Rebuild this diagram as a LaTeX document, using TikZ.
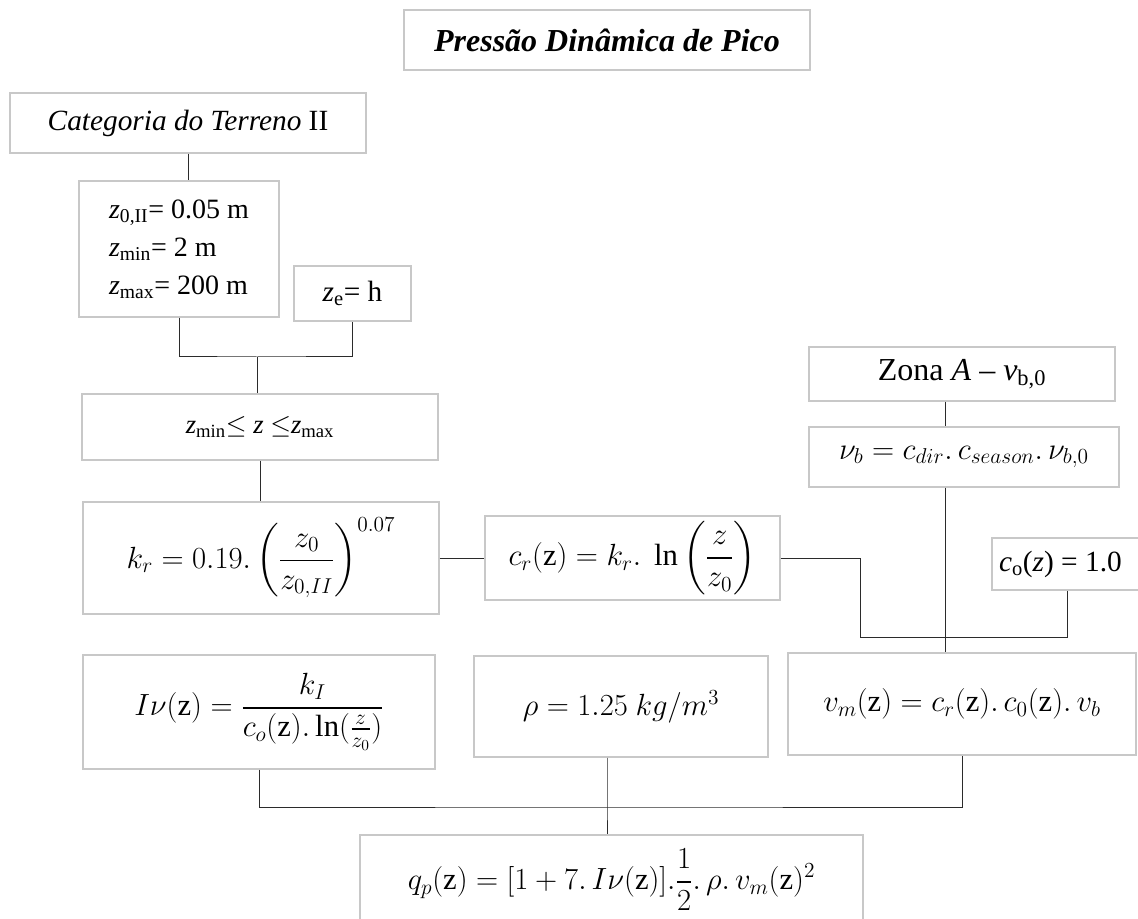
\documentclass[tikz,border=0pt]{standalone}
\usepackage{fix-cm}
\usepackage{amsmath,amssymb}
\usepackage{fontspec}
\setmainfont{Liberation Serif}
\usepackage{tikz}
\usetikzlibrary{positioning,calc}
\usepackage{xcolor}
\definecolor{BordaCinza}{HTML}{C8C8C8}
\definecolor{Tinta}{HTML}{2B2B2B}

\tikzset{
  caixa/.style={draw=BordaCinza,line width=1pt,inner sep=0pt,align=center,
    font=\fontsize{22}{29}\selectfont},
  formula/.style={caixa,font=\fontsize{23}{28}\selectfont},
  ligacao/.style={draw=Tinta,line width=0.75pt},
}

\begin{document}
\begin{tikzpicture}[x=0.75pt,y=-0.75pt]
  % A página segue as proporções da figura original (1138 x 919 px).
  \useasboundingbox (0,0) rectangle (1138,919);

  % Título e dados do terreno.
  \node[caixa,minimum width=304.5pt,minimum height=45pt,font=\fontsize{24}{29}\selectfont] (titulo) at (607,40)
    {\textbf{\textit{Pressão Dinâmica de Pico}}};
  \node[caixa,minimum width=267pt,minimum height=45pt] (categoria) at (188,123)
    {\textit{Categoria do Terreno} II};
  \node[caixa,minimum width=150pt,minimum height=102pt,align=left,
    font=\fontsize{21}{28.5}\selectfont] (zparam) at (179,249)
    {\textit{z}\textsubscript{0,II}= 0.05 m\\
     \textit{z}\textsubscript{min}= 2 m\\
     \textit{z}\textsubscript{max}= 200 m};
  \node[caixa,minimum width=87.75pt,minimum height=41.25pt] (ze) at (352.5,293.5)
    {\textit{z}\textsubscript{e}= h};
  \node[caixa,minimum width=267pt,minimum height=49.5pt,
    font=\fontsize{20}{24}\selectfont] (zlim) at (260,427)
    {\textit{z}\textsubscript{min}$\leq$ \textit{z} $\leq$\textit{z}\textsubscript{max}};

  % Coeficientes de rugosidade e de orografia.
  \node[formula,minimum width=267pt,minimum height=84pt] (kr) at (261,558)
    {$\displaystyle k_r = 0.19.\left(\frac{z_0}{z_{0,II}}\right)^{0.07}$};
  \node[formula,minimum width=221.25pt,minimum height=63pt] (cr) at (632.5,558)
    {$\displaystyle c_r(\mathrm{z}) = k_r.\ \ln\left(\frac{z}{z_0}\right)$};
  \node[caixa,minimum width=112.5pt,minimum height=39pt] (co) at (1067,564)
    {\makebox[102pt][l]{\textit{c}\textsubscript{o}(\textit{z}) = 1.0}};

  % Velocidade de referência do vento.
  \node[caixa,minimum width=229.5pt,minimum height=40.5pt,font=\fontsize{24}{29}\selectfont] (zona) at (962,374)
    {Zona \textit{A} -- \textit{v}\textsubscript{b,0}};
  \node[formula,minimum width=232.5pt,minimum height=45pt] (vb) at (964,457)
    {$\nu_b = c_{dir}.\,c_{season}.\,\nu_{b,0}$};

  % Turbulência, massa volúmica e velocidade média.
  \node[formula,minimum width=264pt,minimum height=85.5pt] (Iv) at (259,712)
    {$\displaystyle I\nu(\mathrm{z}) = \frac{k_I}{c_o(\mathrm{z}).\ln(\frac{z}{z_0})}$};
  \node[formula,minimum width=220.5pt,minimum height=75.75pt] (rho) at (621,706.5)
    {$\rho = 1.25\ kg/m^3$};
  \node[formula,minimum width=261pt,minimum height=76.5pt] (vm) at (962,704)
    {$v_m(\mathrm{z}) = c_r(\mathrm{z}).\,c_0(\mathrm{z}).\,v_b$};

  % A caixa final passa da margem inferior, como no original.
  \node[formula,minimum width=377.25pt,minimum height=67.5pt] (qp) at (611.5,880)
    {$\displaystyle q_p(\mathrm{z}) = [1 + 7.\,I\nu(\mathrm{z})].\frac{1}{2}.\,\rho.\,v_m(\mathrm{z})^2$};

  % Ligações entre as caixas (pontos de junção nomeados).
  \coordinate (jz) at (257,357);
  \coordinate (jc) at (860,637);
  \coordinate (jv) at (945,637);
  \coordinate (jq) at (607,807);

  \draw[ligacao] (categoria.south) -- (categoria.south |- zparam.north);
  \draw[ligacao] (zparam.south) |- (jz) -| (ze.south);
  \draw[ligacao] (jz) -- (jz |- zlim.north);
  \draw[ligacao] (zlim.south) -- (zlim.south |- kr.north);
  \draw[ligacao] (kr.east) -- (cr.west);
  \draw[ligacao] (cr.east) -| (jc) -| (co.south);
  \draw[ligacao] (zona.south -| jv) -- (vb.north -| jv);
  \draw[ligacao] (vb.south -| jv) -- (vm.north -| jv);
  \draw[ligacao] (Iv.south) |- (jq) -| (vm.south);
  \draw[ligacao] (rho.south -| jq) -- (jq) -- (qp.north -| jq);
\end{tikzpicture}
\end{document}
